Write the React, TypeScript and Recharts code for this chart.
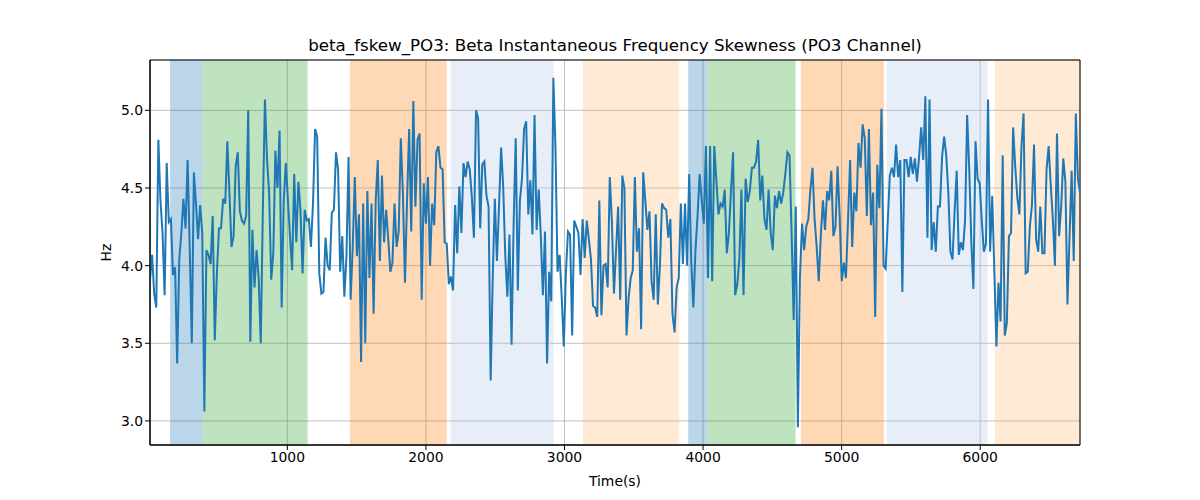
import React from 'react';
import { LineChart, Line, XAxis, YAxis, CartesianGrid, ReferenceArea } from 'recharts';

const seg1 = [3.91,4.07,3.82,3.73,4.81,4.42,4.21,3.81,4.66,4.28,4.30,3.94,3.99,3.37,4.04,4.21,4.43,4.24,4.68,4.12,3.50,4.60,4.40,4.17,4.39,4.21,3.06,4.10,4.07,4.01,4.32,3.52,3.95,4.24,4.24,4.43,4.40,4.80,4.47,4.12,4.19,4.64,4.73,4.35,4.29,4.27,4.32,5.00,3.51,4.23,3.86,4.10,3.92,3.50,4.36,5.07,4.68];
const seg2 = [4.47,3.91,4.08,4.74,4.50,4.87,3.73,4.42,4.66,4.42,4.19,3.97,4.59,4.15,4.54,4.36,3.95,4.36,4.29,4.30,4.12,4.40,4.88,4.83,3.95,3.82,3.83,4.18,4.00,3.97,4.34,4.36,4.73,4.62,3.96,4.19,3.80,4.06,4.70,3.78,4.12,4.57,4.06,4.33,3.38,4.40,3.50,4.48,3.92,4.40,3.69,4.42,4.68,4.03,4.58];
const seg3 = [4.15,4.36,4.17,3.96,4.02,4.40,4.12,4.22,4.82,4.47,3.89,4.42,4.88,4.22,5.06,4.38,4.81,4.85,3.78,4.53,4.27,4.57,4.00,4.40,4.26,4.73,4.77,4.63,4.62,4.15,4.14,3.88,3.93,3.84,4.39,4.08,4.51,4.21,4.66,4.57,4.67,4.62,4.44,4.18,5.00,4.95,4.24,4.65,4.67,4.45,4.38,3.26,3.93,4.43,4.03];
const seg4 = [4.38,4.76,4.51,4.06,3.80,4.20,3.49,4.27,4.82,3.84,4.42,4.56,4.88,4.93,4.33,4.55,4.20,4.97,4.23,4.49,4.19,3.81,4.22,3.37,3.96,3.77,5.21,4.77,3.96,4.07,3.80,3.48,3.95,4.22,4.20,3.55,4.29,4.25,4.21,3.94,4.30,4.05,4.29,4.17,4.04,3.74,3.73,3.67,4.42,3.68,4.00,4.01,3.86,4.57,4.29];
const seg5 = [3.82,4.10,4.38,3.78,4.58,4.50,3.55,3.79,3.92,3.97,4.57,4.09,4.24,3.59,4.60,4.42,4.23,4.35,3.90,3.78,4.33,3.75,4.00,4.40,4.37,4.36,4.18,4.30,3.69,3.57,3.86,3.92,4.40,4.01,4.40,4.00,4.59,4.02,3.73,4.10,4.32,4.59,4.42,4.27,4.77,3.92,4.77,3.90,4.77,4.55,4.33,4.40,4.38,4.49,4.08];
const seg6 = [4.21,4.48,4.73,3.81,3.88,4.04,4.49,3.81,4.56,4.41,4.48,4.63,4.63,4.67,4.81,4.42,4.58,4.30,4.23,4.49,4.21,4.10,4.45,4.37,4.48,4.40,4.47,4.59,4.73,4.71,4.21,3.65,4.38,2.96,3.93,4.27,4.10,4.25,4.30,4.49,4.63,4.30,4.12,3.90,4.20,4.42,4.23,4.48,4.42,4.61,4.19,4.25,4.64,4.32,3.90,4.02];
const seg7 = [3.92,4.29,4.68,4.12,4.47,4.35,4.79,4.63,4.91,4.82,4.32,4.88,4.26,4.47,3.67,4.65,4.37,5.01,4.00,3.98,4.28,4.58,4.63,4.57,4.78,4.57,4.68,3.83,4.68,4.68,4.57,4.70,4.59,4.69,4.54,4.70,4.89,4.68,5.09,4.18,5.07,4.10,4.28,4.09,4.38,4.38,4.70,4.83,4.71,4.47,4.09,4.04,4.35,4.61,4.07];
const seg8 = [4.15,4.10,4.29,4.97,4.62,4.15,3.85,4.80,4.56,4.53,4.29,4.09,4.14,5.07,4.09,4.45,3.97,3.48,3.89,3.64,4.71,3.55,3.63,4.19,4.21,4.89,4.64,4.44,4.33,4.77,4.98,3.95,3.96,4.25,4.39,4.78,4.17,4.09,4.38,4.08,4.08,4.62,4.77,4.52,4.30,4.00,4.85,4.19,4.38,4.69,4.54,3.75,4.19,4.61,4.03,4.98,4.56,4.47];

const T_START = 9;
const T_END = 6720;

// shaded epochs (seconds) and their palette slot
const bandStarts = [154, 390, 1452, 2179, 3133, 3893, 4030, 4706, 5325, 6106];
const bandEnds = [390, 1147, 2150, 2922, 3828, 4030, 4668, 5305, 6053, 6720];
const bandKinds = [0, 1, 2, 3, 4, 0, 1, 2, 3, 4];
const bandColors = ['#1f77b4', '#2ca02c', '#ff7f0e', '#aec7e8', '#ffbb78'];

const xTicks = [1000, 2000, 3000, 4000, 5000, 6000];
const yTicks = [3.0, 3.5, 4.0, 4.5, 5.0];

const values = [...seg1, ...seg2, ...seg3, ...seg4, ...seg5, ...seg6, ...seg7, ...seg8];
const step = (T_END - T_START) / (values.length - 1);
const data = values.map((v, i) => ({ t: T_START + i * step, v }));

const font = 'DejaVu Sans, sans-serif';
const tickStyle = { fontSize: 13.9, fill: '#000', fontFamily: font };

export default function App() {
  return (
    <div style={{ position: 'absolute', left: 0, top: 0, width: 1200, height: 500, background: '#fff', fontFamily: font }}>
      <div style={{ position: 'absolute', left: 150, width: 930, top: 35, textAlign: 'center', fontSize: 16.7, color: '#000' }}>
        beta_fskew_PO3: Beta Instantaneous Frequency Skewness (PO3 Channel)
      </div>
      <LineChart width={1200} height={500} data={data} margin={{ top: 60, right: 120, bottom: 25, left: 100 }}>
        <CartesianGrid stroke="#b0b0b0" strokeWidth={0.8} />
        {bandStarts.map((s, i) => (
          <ReferenceArea key={i} x1={s} x2={bandEnds[i]} y1={2.845} y2={5.324} fill={bandColors[bandKinds[i]]} fillOpacity={0.3} stroke="none" ifOverflow="hidden" />
        ))}
        <XAxis
          dataKey="t"
          type="number"
          domain={[T_START, T_END]}
          ticks={xTicks}
          allowDataOverflow
          height={30}
          tick={tickStyle}
          tickSize={5}
          axisLine={{ stroke: '#000' }}
          tickLine={{ stroke: '#000' }}
          label={{ value: 'Time(s)', position: 'insideBottom', offset: -11, style: tickStyle }}
        />
        <YAxis
          type="number"
          domain={[2.845, 5.324]}
          ticks={yTicks}
          allowDataOverflow
          width={50}
          tick={tickStyle}
          tickSize={5}
          tickFormatter={(v: number) => v.toFixed(1)}
          axisLine={{ stroke: '#000' }}
          tickLine={{ stroke: '#000' }}
          label={{ value: 'Hz', angle: -90, position: 'insideLeft', offset: 0, dx: 6, style: { ...tickStyle, textAnchor: 'middle' } }}
        />
        <ReferenceArea x1={T_START} x2={T_END} y1={2.845} y2={5.324} fill="none" stroke="#000" strokeWidth={1} />
        <Line type="linear" dataKey="v" stroke="#1f77b4" strokeWidth={2} dot={false} isAnimationActive={false} />
      </LineChart>
    </div>
  );
}
